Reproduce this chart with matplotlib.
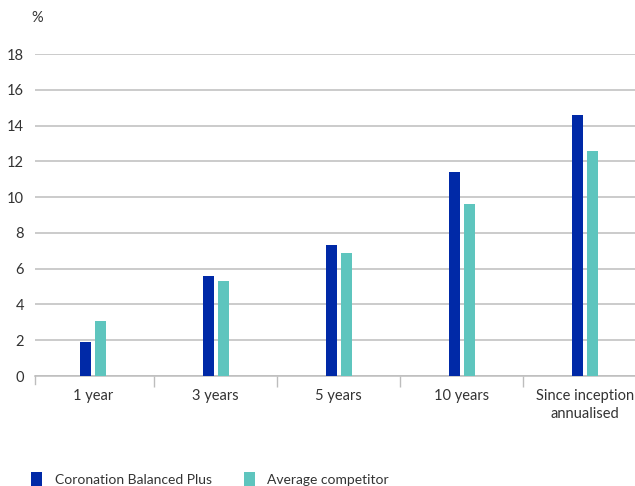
import matplotlib
matplotlib.use("Agg")
import matplotlib.pyplot as plt
from matplotlib.patches import Patch
import numpy as np

categories = ["1 year", "3 years", "5 years", "10 years", "Since inception\nannualised"]
fund = [1.9, 5.6, 7.3, 11.4, 14.6]
competitor = [3.1, 5.3, 6.9, 9.6, 12.6]
series_names = ["Coronation Balanced Plus", "Average competitor"]
yticks = [0, 2, 4, 6, 8, 10, 12, 14, 16, 18]

blue = "#0029A7"
teal = "#5EC5BE"
grid_c = "#BDBDBD"
text_c = "#333333"
fs = 10.5

plt.rcParams['font.family'] = ['Lato', 'DejaVu Sans']

fig = plt.figure(figsize=(6.35, 4.86), dpi=100)
ax = fig.add_axes([35/635, 110/486, 1 - 35/635, (376-54)/486])

x = np.arange(len(categories))
w = 0.09
off = 0.061
ax.bar(x - off, fund, width=w, color=blue, zorder=3)
ax.bar(x + off, competitor, width=w, color=teal, zorder=3)

ax.set_ylim(0, 18)
ax.set_xlim(-0.47, 4.41)
ax.set_yticks(yticks)
ax.set_yticklabels([str(v) for v in yticks], fontsize=fs, color=text_c)
ax.yaxis.grid(True, color=grid_c, linewidth=1.1, zorder=0)
ax.tick_params(axis='y', length=0, pad=8)

ax.set_xticks(np.arange(len(categories) - 1) + 0.5)
ax.set_xticklabels([])
ax.set_xticks(x, minor=True)
ax.set_xticklabels(categories, minor=True, fontsize=fs, color=text_c, linespacing=1.45)
ax.tick_params(axis='x', which='major', length=8, color=grid_c, width=1)
ax.tick_params(axis='x', which='minor', length=0, pad=9)

for s in ['top', 'right', 'left']:
    ax.spines[s].set_visible(False)
ax.spines['bottom'].set_color(grid_c)
ax.spines['bottom'].set_linewidth(1.1)

# left boundary tick
ax.plot([-0.47, -0.47], [0, -0.45], color=grid_c, lw=1, clip_on=False)

fig.text(31/635, 1 - 18/486, "%", fontsize=fs, color=text_c, va='center', ha='left')

handles = [Patch(facecolor=blue), Patch(facecolor=teal)]
fig.legend(handles, series_names, loc='center left', bbox_to_anchor=(27/635, 7/486),
           ncol=2, frameon=False, fontsize=10, handlelength=0.8, handleheight=1.1,
           handletextpad=0.9, columnspacing=2.3, labelcolor=text_c,
           borderaxespad=0, borderpad=0.3)

fig.savefig("out.png", dpi=100)
